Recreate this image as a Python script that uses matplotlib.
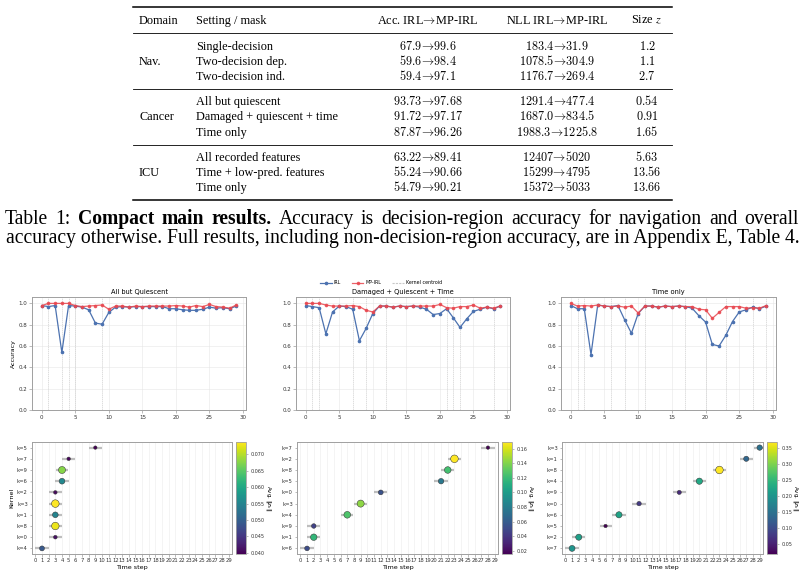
import numpy as np
import matplotlib
matplotlib.use("Agg")
import matplotlib.pyplot as plt
from matplotlib.lines import Line2D
from matplotlib import colors

# ---------------- data ----------------
domains = ["Nav.", "Cancer", "ICU"]
settings = ["Single-decision", "Two-decision dep.", "Two-decision ind.",
            "All but quiescent", "Damaged + quiescent + time", "Time only",
            "All recorded features", "Time + low-pred. features", "Time only"]
acc_irl = ["67.9", "59.6", "59.4", "93.73", "91.72", "87.87", "63.22", "55.24", "54.79"]
acc_mp = ["99.6", "98.4", "97.1", "97.68", "97.17", "96.26", "89.41", "90.66", "90.21"]
nll_irl = ["183.4", "1078.5", "1176.7", "1291.4", "1687.0", "1988.3", "12407", "15299", "15372"]
nll_mp = ["31.9", "304.9", "269.4", "477.4", "834.5", "1225.8", "5020", "4795", "5033"]
size_z = ["1.2", "1.1", "2.7", "0.54", "0.91", "1.65", "5.63", "13.56", "13.66"]

caption_1 = "Table 1: Compact main results. Accuracy is decision-region accuracy for navigation and overall"
caption_bold = ["Compact", "main", "results."]
caption_2 = "accuracy otherwise. Full results, including non-decision-region accuracy, are in Appendix E, Table 4."

panel_titles = ["All but Quiescent", "Damaged + Quiescent + Time", "Time only"]
timesteps = list(range(30))

irl_acc_1 = [0.98, 0.97, 0.98, 0.54, 0.98, 0.975, 0.965, 0.94, 0.815, 0.805,
             0.915, 0.965, 0.97, 0.965, 0.97, 0.97, 0.97, 0.97, 0.97, 0.95,
             0.95, 0.94, 0.935, 0.935, 0.945, 0.965, 0.955, 0.96, 0.95, 0.975]
mp_acc_1 = [0.98, 1.0, 1.0, 1.0, 1.0, 0.98, 0.97, 0.975, 0.98, 0.985,
            0.945, 0.975, 0.975, 0.965, 0.975, 0.97, 0.975, 0.975, 0.975, 0.975,
            0.98, 0.975, 0.965, 0.98, 0.97, 0.99, 0.97, 0.965, 0.955, 0.985]
irl_acc_2 = [0.98, 0.97, 0.96, 0.715, 0.92, 0.975, 0.97, 0.945, 0.65, 0.765,
             0.905, 0.975, 0.975, 0.965, 0.975, 0.97, 0.975, 0.965, 0.945, 0.895,
             0.905, 0.95, 0.865, 0.775, 0.855, 0.925, 0.945, 0.965, 0.95, 0.975]
mp_acc_2 = [1.0, 1.0, 1.0, 0.985, 0.975, 0.975, 0.975, 0.98, 0.97, 0.935,
            0.92, 0.975, 0.975, 0.965, 0.975, 0.97, 0.975, 0.975, 0.975, 0.975,
            0.99, 0.96, 0.955, 0.97, 0.97, 0.985, 0.955, 0.965, 0.955, 0.975]
irl_acc_3 = [0.98, 0.95, 0.95, 0.52, 0.985, 0.975, 0.97, 0.98, 0.845, 0.72,
             0.905, 0.975, 0.975, 0.965, 0.975, 0.97, 0.975, 0.97, 0.955, 0.885,
             0.825, 0.615, 0.6, 0.7, 0.83, 0.92, 0.94, 0.965, 0.95, 0.975]
mp_acc_3 = [1.0, 0.975, 0.98, 0.975, 0.985, 0.975, 0.97, 0.975, 0.965, 0.975,
            0.91, 0.975, 0.975, 0.965, 0.975, 0.97, 0.975, 0.97, 0.97, 0.945,
            0.94, 0.86, 0.915, 0.97, 0.97, 0.97, 0.955, 0.96, 0.955, 0.98]

# kernels listed bottom -> top
kernels_1 = ["k=4", "k=0", "k=8", "k=1", "k=3", "k=2", "k=6", "k=9", "k=7", "k=5"]
centroid_1 = [1, 3, 3, 3, 3, 3, 4, 4, 5, 9]
spread_1 = [1.0, 1.0, 1.0, 1.0, 1.0, 1.0, 1.0, 0.9, 1.0, 1.0]
norm_1 = [0.049, 0.041, 0.0728, 0.055, 0.0738, 0.0405, 0.0555, 0.0676, 0.0402, 0.0396]

kernels_2 = ["k=6", "k=1", "k=9", "k=4", "k=3", "k=0", "k=5", "k=8", "k=2", "k=7"]
centroid_2 = [1, 2, 2, 7, 9, 12, 21, 22, 23, 28]
spread_2 = [1.0, 1.0, 1.0, 0.9, 1.0, 1.0, 1.0, 1.0, 1.0, 1.0]
norm_2 = [0.051, 0.117, 0.046, 0.126, 0.143, 0.054, 0.077, 0.123, 0.169, 0.0155]

kernels_3 = ["k=7", "k=2", "k=5", "k=6", "k=0", "k=9", "k=4", "k=8", "k=1", "k=3"]
centroid_3 = [1, 2, 6, 8, 11, 17, 20, 23, 27, 29]
spread_3 = [1.0, 1.0, 0.9, 1.0, 1.0, 1.0, 1.0, 1.0, 1.0, 0.8]
norm_3 = [0.20, 0.215, 0.019, 0.222, 0.078, 0.061, 0.229, 0.369, 0.135, 0.15]

# ---------------- figure ----------------
W, H = 805, 576
fig = plt.figure(figsize=(W / 100, H / 100), dpi=100)
fig.patch.set_facecolor("white")


def X(px):
    return px / W


def Y(py):
    return 1 - py / H


def add_ax(l, t, r, b):
    return fig.add_axes([X(l), Y(b), (r - l) / W, (b - t) / H])


SERIF = ["Liberation Serif", "DejaVu Serif"]
TFS = 8.8

# ---- table ----
for yy, lw in [(7.3, 1.1), (32.5, 0.6), (88.5, 0.6), (144.5, 0.6), (199.5, 1.1)]:
    fig.add_artist(Line2D([X(133), X(672)], [Y(yy), Y(yy)], color="black", lw=lw))

BOFF = 3.6
hy = 20 + BOFF
fig.text(X(139), Y(hy), "Domain", family=SERIF, fontsize=TFS, va="baseline")
fig.text(X(196), Y(hy), "Setting / mask", family=SERIF, fontsize=TFS, va="baseline")
fig.text(X(428), Y(hy), r"Acc. IRL$\!\rightarrow\!$MP-IRL", family=SERIF, fontsize=TFS,
         va="baseline", ha="center", math_fontfamily="cm")
fig.text(X(557), Y(hy), r"NLL IRL$\!\rightarrow\!$MP-IRL", family=SERIF, fontsize=TFS,
         va="baseline", ha="center", math_fontfamily="cm")
fig.text(X(646), Y(hy), r"Size $z$", family=SERIF, fontsize=TFS, va="baseline", ha="center",
         math_fontfamily="stix")

row_y = [46, 61, 76, 101, 116.5, 132, 157, 172, 187]
for i in range(9):
    yy = row_y[i] + BOFF
    fig.text(X(196), Y(yy), settings[i], family=SERIF, fontsize=TFS, va="baseline")
    fig.text(X(428), Y(yy), r"$%s\!\rightarrow\!%s$" % (acc_irl[i], acc_mp[i]), fontsize=TFS,
             va="baseline", ha="center", math_fontfamily="cm")
    fig.text(X(557), Y(yy), r"$%s\!\rightarrow\!%s$" % (nll_irl[i], nll_mp[i]), fontsize=TFS,
             va="baseline", ha="center", math_fontfamily="cm")
    fig.text(X(647), Y(yy), r"$%s$" % size_z[i], fontsize=TFS, va="baseline", ha="center",
             math_fontfamily="cm")
for g, d in enumerate(domains):
    fig.text(X(139), Y(row_y[3 * g + 1] + BOFF), d, family=SERIF, fontsize=TFS, va="baseline")

# ---- caption ----
r = fig.canvas.get_renderer()


def tw(s, **kw):
    t = fig.text(0, 0, s, **kw)
    w = t.get_window_extent(renderer=r).width
    t.remove()
    return w


cfs0 = 12.0
w2 = tw(caption_2, family=SERIF, fontsize=cfs0)
cfs = cfs0 * 792.0 / w2
fig.text(X(6), Y(243), caption_2, family=SERIF, fontsize=cfs, va="baseline")

words = caption_1.split(" ")
weights = ["bold" if w in caption_bold else "normal" for w in words]
wws = [tw(w, family=SERIF, fontsize=cfs, weight=wt) for w, wt in zip(words, weights)]
gap = (799 - 5 - sum(wws)) / (len(words) - 1)
xx = 5
for w, wt, ww in zip(words, weights, wws):
    fig.text(X(xx), Y(224), w, family=SERIF, fontsize=cfs, weight=wt, va="baseline")
    xx += ww + gap

# ---- line plots ----
BLUE = "#4c72b0"
RED = "#e8474f"
SPINE = "#a0a0a0"
line_boxes = [(32, 297, 246, 410), (296, 297, 510, 410), (561, 297, 776, 410)]
irl_all = [irl_acc_1, irl_acc_2, irl_acc_3]
mp_all = [mp_acc_1, mp_acc_2, mp_acc_3]
cents = [centroid_1, centroid_2, centroid_3]
for p in range(3):
    ax = add_ax(*line_boxes[p])
    for c in sorted(set(cents[p])):
        ax.axvline(c, color="#d0d0d0", ls=(0, (2, 1)), lw=0.5, zorder=1)
    ax.plot(timesteps, irl_all[p], color=BLUE, marker="o", ms=1.6, lw=0.9, zorder=3)
    ax.plot(timesteps, mp_all[p], color=RED, marker="o", ms=1.6, lw=0.9, alpha=0.85, zorder=4)
    ax.set_ylim(0, 1.06)
    ax.set_xlim(-1.45, 30.45)
    ax.set_xticks(range(0, 31, 5))
    ax.set_yticks([0.0, 0.2, 0.4, 0.6, 0.8, 1.0])
    ax.grid(True, color="#e6e6e6", lw=0.4)
    ax.set_axisbelow(True)
    ax.tick_params(labelsize=4, length=2, width=0.4, color="#888888", pad=1.5, labelcolor="#333333")
    for s in ax.spines.values():
        s.set_color(SPINE)
        s.set_linewidth(0.7)
    ax.set_title(panel_titles[p], fontsize=4.8, pad=2)
    if p == 0:
        ax.set_ylabel("Accuracy", fontsize=4.5, labelpad=2)

handles = [Line2D([], [], color=BLUE, marker="o", ms=1.6, lw=0.9),
           Line2D([], [], color=RED, marker="o", ms=1.6, lw=0.9, alpha=0.85),
           Line2D([], [], color="#c8c8c8", ls=(0, (2, 1)), lw=0.8)]
fig.legend(handles, ["IRL", "MP-IRL", "Kernel centroid"], loc="center",
           bbox_to_anchor=(X(381), Y(283)), ncol=3, fontsize=3.4, frameon=False,
           handlelength=2.4, handletextpad=0.4, columnspacing=2.4)

# ---- kernel scatter plots ----
sc_boxes = [(32, 442, 232, 554), (297, 442, 498, 554), (562, 442, 763, 554)]
cb_boxes = [(236, 442, 246, 554), (502, 442, 512, 554), (767, 442, 777, 554)]
kernels = [kernels_1, kernels_2, kernels_3]
cents_all = [centroid_1, centroid_2, centroid_3]
spreads = [spread_1, spread_2, spread_3]
norms = [norm_1, norm_2, norm_3]
for p in range(3):
    ax = add_ax(*sc_boxes[p])
    vals = np.array(norms[p])
    vmin, vmax = vals.min(), vals.max()
    ypos = np.arange(len(kernels[p]))
    ax.errorbar(cents_all[p], ypos, xerr=spreads[p], fmt="none", ecolor="#a8a8a8",
                elinewidth=1.6, alpha=0.75, capsize=0, zorder=2)
    sizes = 6 + 24 * (vals - vmin) / (vmax - vmin)
    sc = ax.scatter(cents_all[p], ypos, c=vals, cmap="viridis",
                    norm=colors.Normalize(vmin, vmax), s=sizes,
                    edgecolors="#333333", linewidths=0.35, zorder=3)
    ax.set_yticks(ypos)
    ax.set_yticklabels(kernels[p])
    ax.set_ylim(-0.5, 9.5)
    ax.set_xlim(-0.5, 29.5)
    ax.set_xticks(range(30))
    ax.grid(axis="x", color="#ececec", lw=0.4)
    ax.set_axisbelow(True)
    ax.tick_params(labelsize=3.8, length=1.8, width=0.4, color="#888888", pad=1.2, labelcolor="#333333")
    for s in ax.spines.values():
        s.set_color(SPINE)
        s.set_linewidth(0.7)
    ax.set_xlabel("Time step", fontsize=4.6, labelpad=1.5)
    if p == 0:
        ax.set_ylabel("Kernel", fontsize=4.6, labelpad=2)
    cax = add_ax(*cb_boxes[p])
    cb = fig.colorbar(sc, cax=cax)
    cb.outline.set_edgecolor(SPINE)
    cb.outline.set_linewidth(0.6)
    cax.tick_params(labelsize=3.5, length=1.5, width=0.4, color="#888888", pad=1.5, labelcolor="#333333")
    cb.set_label(r"Avg. $\|z_k\|$", fontsize=4.0, rotation=270, labelpad=6)

fig.savefig("out.png", dpi=100, facecolor="white")
